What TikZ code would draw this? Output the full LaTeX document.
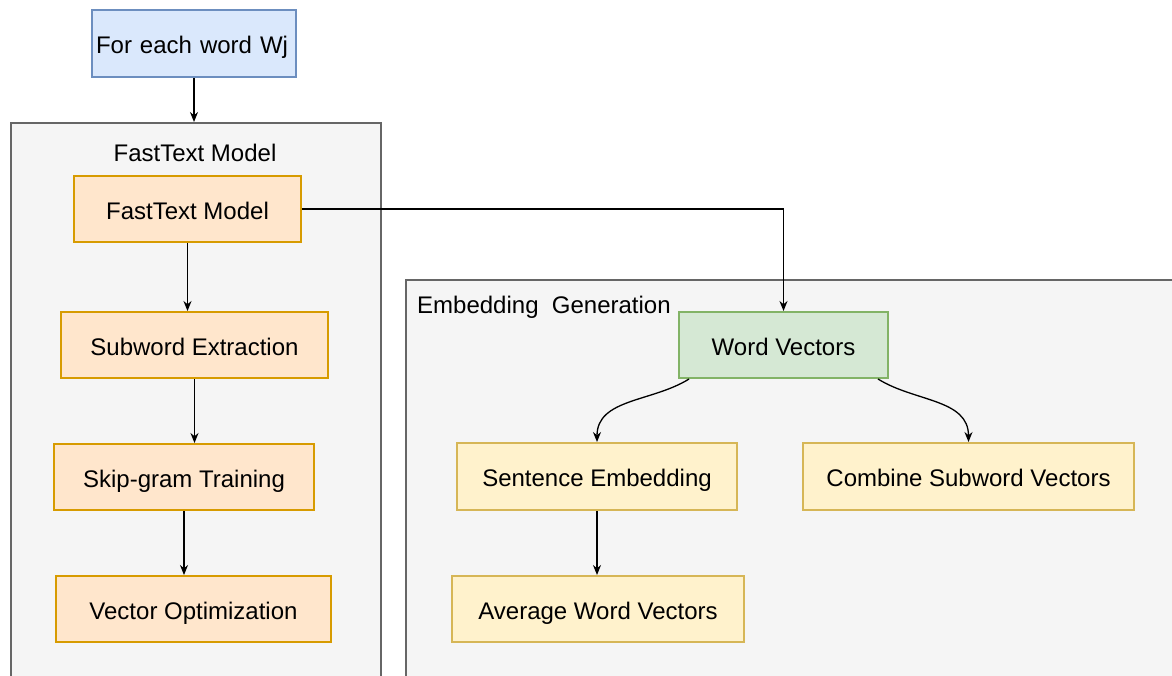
\documentclass[tikz,border=0pt]{standalone}
\usepackage{fontspec}
\setmainfont{Liberation Sans}
\usetikzlibrary{arrows.meta}
\definecolor{bluefill}{HTML}{DAE8FC}
\definecolor{bluedraw}{HTML}{6C8EBF}
\definecolor{orfill}{HTML}{FFE6CC}
\definecolor{ordraw}{HTML}{D79B00}
\definecolor{grfill}{HTML}{D5E8D4}
\definecolor{grdraw}{HTML}{82B366}
\definecolor{yefill}{HTML}{FFF2CC}
\definecolor{yedraw}{HTML}{D6B656}
\definecolor{cfill}{HTML}{F5F5F5}
\definecolor{cdraw}{HTML}{666666}
\tikzset{
  txt/.style={font=\fontsize{24}{28}\selectfont, text=black},
  box/.style={txt, rectangle, inner sep=0pt, line width=2pt, minimum height=66pt, text height=20pt, text depth=0pt},
  bluebox/.style={box, fill=bluefill, draw=bluedraw},
  orbox/.style={box, fill=orfill, draw=ordraw},
  grbox/.style={box, fill=grfill, draw=grdraw},
  yebox/.style={box, fill=yefill, draw=yedraw},
  container/.style={rectangle, inner sep=0pt, fill=cfill, draw=cdraw, line width=2pt},
  arr/.style={-{Stealth[length=10pt,width=8pt]}, line width=1.3pt, black},
}
\begin{document}
\begin{tikzpicture}[x=1pt,y=-1pt]
\useasboundingbox (0,0) rectangle (1172,675);
\clip (0,0) rectangle (1172,675);
% containers
\node[container, minimum width=370pt, minimum height=590pt, anchor=north west] (ftc) at (10,122) {};
\node[container, minimum width=780pt, minimum height=430pt, anchor=north west] (egc) at (405,279) {};
\node[txt] (ftcl) at (195,153) {FastText Model};
\node[txt, anchor=west, inner sep=0pt] (egcl) at (417,307) {Embedding\ \ Generation};
% top box
\node[bluebox, minimum width=204pt, minimum height=67pt, text width=196pt, align=left] (top) at (194,43.5) {For each word Wj};
% left column
\node[orbox, minimum width=227pt] (ft) at (187.5,209) {FastText Model};
\node[orbox, minimum width=267pt] (sub) at (194.5,345) {Subword Extraction};
\node[orbox, minimum width=260pt] (skip) at (184,477) {Skip-gram Training};
\node[orbox, minimum width=275pt] (vec) at (193.5,609) {Vector Optimization};
% right part
\node[grbox, minimum width=209pt] (wv) at (783.5,345) {Word Vectors};
\node[yebox, minimum width=280pt, minimum height=67pt] (se) at (597,476.5) {Sentence Embedding};
\node[yebox, minimum width=331pt, minimum height=67pt] (cs) at (968.5,476.5) {Combine Subword Vectors};
\node[yebox, minimum width=292pt] (avg) at (598,609) {Average Word Vectors};
% connectors
\draw[arr] (top.south) -- (top.south |- ftc.north);
\draw[arr] (ft.south) -- (ft.south |- sub.north);
\draw[arr] (sub.south) -- (sub.south |- skip.north);
\draw[arr] (skip.south) -- (skip.south |- vec.north);
\draw[arr] (ft.east) -- (wv.north |- ft.east) -- (wv.north);
\draw[arr] ([xshift=11pt]wv.south west) to[out=-148, in=90] (se.north);
\draw[arr] ([xshift=-11pt]wv.south east) to[out=-32, in=90] (cs.north);
\draw[arr] (se.south) -- (se.south |- avg.north);
\end{tikzpicture}
\end{document}
